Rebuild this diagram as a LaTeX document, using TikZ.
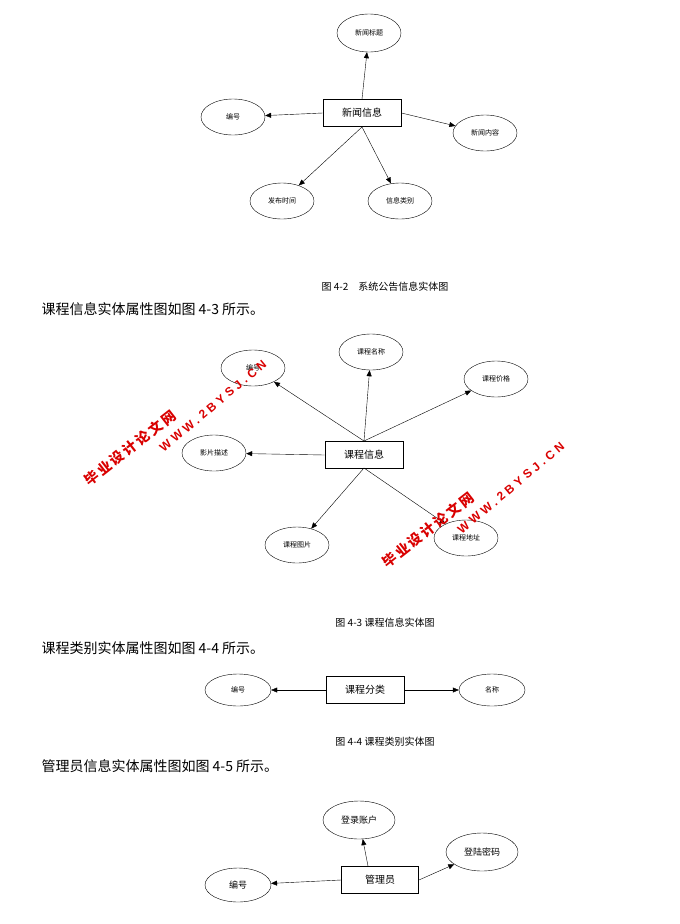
\documentclass[tikz,border=0pt]{standalone}
\usepackage{fontspec}
\newfontfamily\cjk{Noto Sans CJK SC}
\newfontfamily\wmlat[LetterSpace=30]{Liberation Sans}
\usetikzlibrary{shapes.geometric,arrows.meta}
\begin{document}
\begin{tikzpicture}[x=1pt,y=-1pt,font=\cjk,
 ent/.style={draw,thick,minimum width=78pt,minimum height=27pt,inner sep=0pt,font=\cjk\fontsize{10}{12}\selectfont},
 att/.style={draw,ellipse,minimum width=64pt,minimum height=36pt,inner sep=0pt,font=\cjk\fontsize{7}{8}\selectfont},
 att2/.style={att,minimum width=72pt,minimum height=38pt,font=\cjk\fontsize{9}{10}\selectfont},
 arr/.style={-{Triangle[length=6pt,width=5pt]}},
 captxt/.style={font=\cjk\fontsize{10}{12}\selectfont},
 para/.style={anchor=west,font=\cjk\fontsize{14}{16}\selectfont},
 wmA/.style={text=red!85!black,rotate=40,font=\wmlat\bfseries\fontsize{12}{14}\selectfont},
 wmB/.style={text=red!85!black,rotate=38,font=\cjk\bfseries\fontsize{14}{16}\selectfont}]
\useasboundingbox (0,0) rectangle (680,924);
% fig 4-2
\node[ent] (n) at (362,113) {新闻信息};
\node[att,minimum height=38pt] (n1) at (369,33) {新闻标题};
\node[att] (n2) at (233,117) {编号};
\node[att] (n3) at (485,133) {新闻内容};
\node[att] (n4) at (282,201) {发布时间};
\node[att] (n5) at (400,201) {信息类别};
\coordinate (nb) at (362,127);
\draw[arr] (n.north) -- (n1);
\draw[arr] (n.west) -- (n2);
\draw[arr] (n.east) -- (n3);
\draw[arr] (nb) -- (n4);
\draw[arr] (nb) -- (n5);
\node[captxt] (c1) at (385,287) {图 4-2\quad 系统公告信息实体图};
\node[para] (p1) at (38,309) {课程信息实体属性图如图 4-3 所示。};
% fig 4-3
\node[ent] (k) at (364,455) {课程信息};
\node[att] (k1) at (253,368) {编号};
\node[att] (k2) at (371,352) {课程名称};
\node[att] (k3) at (496,379) {课程价格};
\node[att] (k4) at (214,453) {影片描述};
\node[att] (k5) at (297,545) {课程图片};
\node[att] (k6) at (466,538) {课程地址};
\coordinate (kt) at (364,441);
\coordinate (kb) at (364,468);
\draw[arr] (kt) -- (k1);
\draw[arr] (kt) -- (k2);
\draw[arr] (kt) -- (k3);
\draw[arr] (k.west) -- (k4);
\draw[arr] (kb) -- (k5);
\draw[arr] (kb) -- (k6);
\node[captxt] (c2) at (385,623) {图 4-3 课程信息实体图};
\node[para] (p2) at (38,648) {课程类别实体属性图如图 4-4 所示。};
% fig 4-4
\node[ent] (f) at (365,690) {课程分类};
\node[att,minimum width=66pt,minimum height=32pt] (f1) at (238,690) {编号};
\node[att,minimum width=66pt,minimum height=32pt] (f2) at (492,690) {名称};
\draw[arr] (f.west) -- (f1);
\draw[arr] (f.east) -- (f2);
\node[captxt] (c3) at (385,742) {图 4-4 课程类别实体图};
\node[para] (p3) at (38,766) {管理员信息实体属性图如图 4-5 所示。};
% fig 4-5
\node[ent,minimum width=77pt] (m) at (380,880) {管理员};
\node[att2] (m1) at (359,820) {登录账户};
\node[att2] (m2) at (482,852) {登陆密码};
\node[att2,minimum width=66pt,minimum height=34pt] (m3) at (238,885) {编号};
\coordinate (mt) at (368,866);
\draw[arr] (mt) -- (m1);
\draw[arr] (m.east) -- (m2);
\draw[arr] (m.west) -- (m3);
% watermarks
\node[wmA] (w1) at (213,406) {WWW.2BYSJ.CN};
\node[wmB] (w2) at (130,448) {毕\,业\,设\,计\,论\,文\,网};
\node[wmA] (w3) at (511,488) {WWW.2BYSJ.CN};
\node[wmB] (w4) at (428,530) {毕\,业\,设\,计\,论\,文\,网};
\end{tikzpicture}
\end{document}
